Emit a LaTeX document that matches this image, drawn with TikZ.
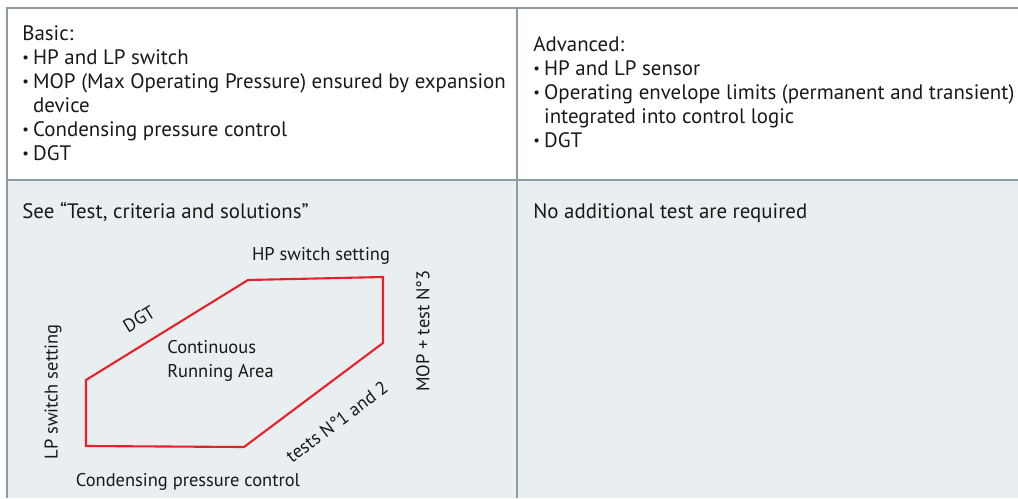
\documentclass[tikz,border=0pt]{standalone}
\usepackage{fontspec}
\setmainfont{PT Sans}
\usetikzlibrary{positioning}
\definecolor{cellgray}{HTML}{E9EEF1}
\definecolor{rulegray}{HTML}{8E9CA6}
\definecolor{envred}{HTML}{E52228}
\newcommand\colsplit{517}
\newcommand\rowsplit{180}
\newcommand\lineangle{31.7}
\newcommand\testangle{36.8}
\newcommand\bul{\raisebox{0.08em}{\scalebox{0.7}{\textbullet}}\hspace{0.2em}}
\newcommand\hang{\phantom{\bul}}

\begin{document}
\begin{tikzpicture}[x=0.02cm, y=-0.02cm]
	\tikzstyle{every node}=[font=\fontsize{10.5}{13.6}\selectfont, text=black!90, inner sep=0pt]
	\tikzstyle{cell}=[align=left, anchor=base west, font=\fontsize{11.9}{13.6}\selectfont]
	\tikzstyle{envelope}=[draw=envred, line width=1.2pt, line join=miter]
	
	\useasboundingbox (0,0) rectangle (1018,498);
	
	%table
	\fill[cellgray] (7,\rowsplit) rectangle (1018,498);
	\draw[rulegray, line width=0.6pt] (1018,8) -- (7,8) -- (7,498);
	\draw[rulegray, line width=0.6pt] (7,\rowsplit) -- (1018,\rowsplit);
	\draw[rulegray, line width=0.6pt] (\colsplit,8) -- (\colsplit,498);
	
	%top row (base = last line)
	\node[cell] (basic) at (22,160) {Basic:\\
		\bul HP and LP switch\\
		\bul MOP (Max Operating Pressure) ensured by expansion\\
		\hang device\\
		\bul Condensing pressure control\\
		\bul DGT};
	\node[cell] (advanced) at (533,147) {Advanced:\\
		\bul HP and LP sensor\\
		\bul Operating envelope limits (permanent and transient)\\
		\hang integrated into control logic\\
		\bul DGT};
	
	%bottom row
	\node[cell] (see) at (22,218) {See “Test, criteria and solutions”};
	\node[cell] (notest) at (533,218) {No additional test are required};
	
	% envelope corners
	\coordinate (lpt) at (86,380);
	\coordinate (dgt) at (248,280);
	\coordinate (hpr) at (383,277);
	\coordinate (mop) at (383,343);
	\coordinate (tst) at (244,447);
	\coordinate (lpb) at (86,446);
	\draw[envelope] (lpt) -- (dgt) -- (hpr) -- (mop) -- (tst) -- (lpb) -- cycle;
	
	%limits
	\node (hplabel) at (321,256) {HP switch setting};
	\node[rotate=\lineangle] (dgtlabel) at (139,319) {DGT};
	\node[align=left, anchor=west] (cra) at (167,361) {Continuous\\Running Area};
	\node[rotate=90] (lplabel) at (53,392) {LP switch setting};
	\node[rotate=90] (moplabel) at (423,331) {MOP + test N°3};
	\node[rotate=\testangle] (tstlabel) at (337,422) {tests N°1 and 2};
	\node (cpclabel) at (188,482) {Condensing pressure control};
\end{tikzpicture}
\end{document}
